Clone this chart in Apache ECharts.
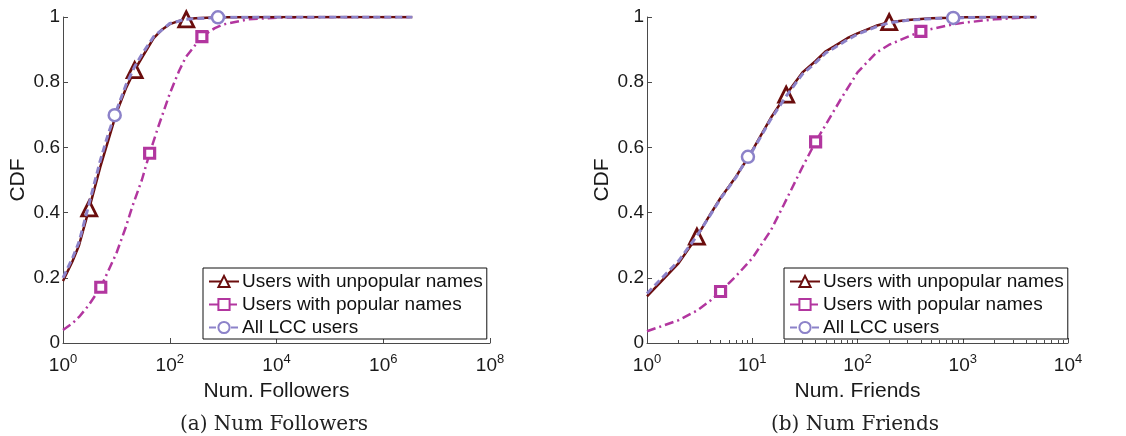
<!DOCTYPE html>
<html>
<head>
<meta charset="utf-8">
<script src="https://cdn.jsdelivr.net/npm/echarts@6/dist/echarts.min.js"></script>
<style>html,body{margin:0;padding:0;background:#fff}#c{width:1126px;height:436px}</style>
</head>
<body>
<div id="c"></div>
<script>
// ---- data ----
const seriesNames = ['Users with unpopular names', 'Users with popular names', 'All LCC users'];
const yTicks = [0, 0.2, 0.4, 0.6, 0.8, 1];

// (a) Num Followers  [x, CDF]
const folUnpop = [[1,0.19],[1.5,0.25],[2,0.30],[3.1,0.413],[5,0.54],[7,0.62],[10,0.705],[15,0.78],[22,0.837],[30,0.875],[50,0.935],[70,0.96],[100,0.978],[150,0.988],[204,0.993],[300,0.996],[500,0.998],[1000,0.999],[10000,1],[3500000,1]];
const folPop = [[1,0.04],[1.5,0.06],[2,0.08],[3,0.115],[5.1,0.171],[7,0.22],[10,0.275],[15,0.355],[20,0.42],[30,0.5],[42,0.582],[60,0.66],[100,0.765],[150,0.835],[200,0.877],[400,0.94],[700,0.966],[1000,0.977],[3000,0.993],[10000,0.998],[100000,1],[3500000,1]];
const folAll = [[1,0.2],[1.5,0.26],[2,0.31],[3,0.42],[5,0.56],[7,0.64],[9.3,0.699],[15,0.79],[22,0.848],[30,0.885],[50,0.94],[100,0.98],[200,0.993],[800,0.999],[10000,1],[3500000,1]];
const folUnpopMarks = [3.1, 22, 204];
const folPopMarks = [5.1, 42, 400];
const folAllMarks = [9.3, 800];

// (b) Num Friends  [x, CDF]
const friUnpop = [[1,0.143],[2,0.245],[2.98,0.326],[4,0.395],[5,0.445],[6,0.48],[7,0.51],[8,0.54],[9,0.565],[10,0.59],[12,0.635],[15,0.69],[21,0.762],[30,0.83],[40,0.865],[50,0.895],[60,0.91],[80,0.935],[100,0.95],[150,0.973],[200,0.984],[300,0.991],[500,0.996],[800,0.998],[1000,0.999],[2000,1],[5000,1]];
const friPop = [[1,0.036],[2,0.07],[3,0.1],[4,0.13],[5,0.158],[7,0.205],[10,0.26],[15,0.345],[20,0.425],[30,0.54],[40,0.617],[50,0.67],[70,0.75],[100,0.83],[150,0.89],[200,0.915],[400,0.956],[800,0.977],[1000,0.982],[2000,0.993],[5000,1]];
const friAll = [[1,0.152],[2,0.252],[3,0.33],[4,0.393],[5,0.443],[6,0.478],[7,0.508],[8,0.54],[9.1,0.571],[10,0.588],[12,0.632],[15,0.686],[21,0.757],[30,0.825],[40,0.86],[50,0.89],[60,0.905],[80,0.93],[100,0.947],[150,0.97],[200,0.982],[300,0.99],[500,0.995],[812,0.997],[1000,0.998],[2000,1],[5000,1]];
const friUnpopMarks = [2.98, 21, 200];
const friPopMarks = [5, 40, 400];
const friAllMarks = [9.1, 812];

const captions = ['(a) Num Followers', '(b) Num Friends'];
const xNames = ['Num. Followers', 'Num. Friends'];
const yName = 'CDF';

// ---- styles ----
const C_UNPOP = '#6b0d0d', C_POP = '#b2369f', C_ALL = '#8c82c9';
const FONT = 'Liberation Sans, Arial, sans-serif';

function withMarks(arr, marks) {
  return arr.map(p => marks.indexOf(p[0]) >= 0 ? {value: p} : {value: p, symbol: 'none'});
}
function mkSeries(idx, data, marks, kind) {
  const st = {
    unpop: {color: C_UNPOP, symbol: 'triangle', size: 15, type: 'solid', w: 2.5, z: 3, bw: 2.8},
    pop:   {color: C_POP, symbol: 'rect', size: 10, type: [9, 4, 2, 4], w: 2.5, z: 2, bw: 3.2},
    all:   {color: C_ALL, symbol: 'circle', size: 12, type: [7, 4], w: 3, z: 4, bw: 2.5}
  }[kind];
  const name = kind === 'unpop' ? seriesNames[0] : kind === 'pop' ? seriesNames[1] : seriesNames[2];
  return {
    type: 'line', name, xAxisIndex: idx, yAxisIndex: idx,
    data: withMarks(data, marks), smooth: false, showSymbol: true,
    symbol: st.symbol, symbolSize: st.size, z: st.z,
    lineStyle: {color: st.color, width: st.w, type: st.type},
    itemStyle: {color: '#fff', borderColor: st.color, borderWidth: st.bw},
    emphasis: {disabled: true}, animation: false
  };
}
function xAxis(idx, maxV, interval, minor) {
  return {
    type: 'log', logBase: 10, gridIndex: idx, min: 1, max: maxV, interval: interval,
    name: xNames[idx], nameLocation: 'middle', nameGap: 30,
    nameTextStyle: {fontFamily: FONT, fontSize: 21, color: '#1a1a1a'},
    axisLine: {show: true, lineStyle: {color: '#4a4a4a', width: 1}},
    axisTick: {show: true, inside: true, length: 5, lineStyle: {color: '#4a4a4a'}},
    minorTick: {show: minor, splitNumber: 9, length: 3, lineStyle: {color: '#4a4a4a'}},
    splitLine: {show: false},
    axisLabel: {
      margin: 10, color: '#1a1a1a', fontFamily: FONT, fontSize: 19,
      formatter: v => '10{e|' + Math.round(Math.log10(v)) + '}',
      rich: {e: {fontSize: 13, fontFamily: FONT, color: '#1a1a1a', padding: [0, 0, 13, 0]}}
    }
  };
}
function yAxis(idx) {
  return {
    type: 'value', gridIndex: idx, min: 0, max: 1, interval: 0.2,
    name: yName, nameLocation: 'middle', nameGap: 34,
    nameTextStyle: {fontFamily: FONT, fontSize: 21, color: '#1a1a1a'},
    axisLine: {show: true, lineStyle: {color: '#4a4a4a', width: 1}},
    axisTick: {show: true, inside: true, length: 5, lineStyle: {color: '#4a4a4a'}},
    splitLine: {show: false},
    axisLabel: {margin: 3, color: '#1a1a1a', fontFamily: FONT, fontSize: 19,
      formatter: v => yTicks.indexOf(+v.toFixed(1)) >= 0 ? String(+v.toFixed(1)) : ''}
  };
}
function legend(idx, left) {
  return {
    show: true, orient: 'vertical', left: left, top: 268,
    data: seriesNames, itemWidth: 30, itemHeight: 14, itemGap: 4,
    padding: [4, 4, 2, 5], borderColor: '#111', borderWidth: 1, backgroundColor: '#fff',
    textStyle: {fontFamily: FONT, fontSize: 19, color: '#111', padding: [0, 0, 0, -2]},
    selectedMode: false
  };
}

const chart = echarts.init(document.getElementById('c'), null, {renderer: 'canvas'});
const option = {
  backgroundColor: '#fff', animation: false,
  grid: [
    {left: 63, top: 17, width: 427, height: 326},
    {left: 647, top: 17, width: 421, height: 326}
  ],
  xAxis: [xAxis(0, 1e8, 2, false), xAxis(1, 1e4, 1, true)],
  yAxis: [yAxis(0), yAxis(1)],
  legend: [legend(0, 203), legend(1, 784)],
  series: [
    mkSeries(0, folPop, folPopMarks, 'pop'),
    mkSeries(0, folUnpop, folUnpopMarks, 'unpop'),
    mkSeries(0, folAll, folAllMarks, 'all'),
    mkSeries(1, friPop, friPopMarks, 'pop'),
    mkSeries(1, friUnpop, friUnpopMarks, 'unpop'),
    mkSeries(1, friAll, friAllMarks, 'all')
  ],
  graphic: [
    {type: 'text', x: 274, y: 425, style: {text: captions[0], align: 'center', verticalAlign: 'middle', font: '20px "DejaVu Serif", "Liberation Serif", serif', fill: '#222'}},
    {type: 'text', x: 855, y: 425, style: {text: captions[1], align: 'center', verticalAlign: 'middle', font: '20px "DejaVu Serif", "Liberation Serif", serif', fill: '#222'}}
  ]
};
chart.setOption(option);
</script>
</body>
</html>
